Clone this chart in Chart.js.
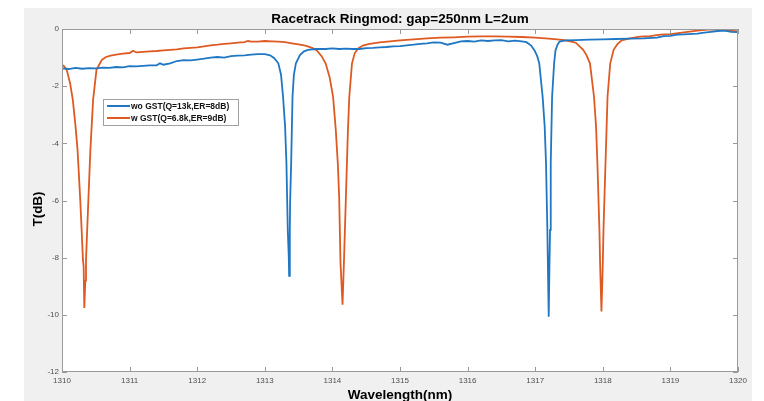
<!DOCTYPE html>
<html>
<head>
<meta charset="utf-8">
<title>Racetrack Ringmod</title>
<script src="https://cdn.jsdelivr.net/npm/chart.js@4.4.1/dist/chart.umd.min.js"></script>
<style>
  html, body { margin: 0; padding: 0; background: #fff; }
  canvas { display: block; }
</style>
</head>
<body>
<canvas id="ringChart" width="764" height="401"></canvas>
<script>
// measured spectra, wavelength in nm / transmission in dB
const woWavelength = [
  1310.00, 1310.10, 1310.20, 1310.30, 1310.40, 1310.50, 1310.60, 1310.70, 1310.80, 1310.90,
  1311.00, 1311.10, 1311.20, 1311.30, 1311.40, 1311.45, 1311.50, 1311.60, 1311.70, 1311.80,
  1311.90, 1312.00, 1312.10, 1312.20, 1312.30, 1312.40, 1312.50, 1312.60, 1312.70, 1312.80,
  1312.90, 1313.00, 1313.08, 1313.14, 1313.20, 1313.24, 1313.27, 1313.30, 1313.32, 1313.34,
  1313.355, 1313.36, 1313.37, 1313.375, 1313.39, 1313.41, 1313.43, 1313.46, 1313.52, 1313.58,
  1313.64, 1313.75, 1313.90, 1314.00, 1314.10, 1314.20, 1314.30, 1314.40, 1314.50, 1314.60,
  1314.70, 1314.80, 1314.90, 1315.00, 1315.10, 1315.20, 1315.30, 1315.40, 1315.50, 1315.60,
  1315.70, 1315.80, 1315.90, 1316.00, 1316.10, 1316.20, 1316.30, 1316.40, 1316.50, 1316.60,
  1316.70, 1316.80, 1316.87, 1316.94, 1316.99, 1317.03, 1317.06, 1317.11, 1317.14, 1317.16,
  1317.18, 1317.19, 1317.20, 1317.21, 1317.22, 1317.23, 1317.25, 1317.28, 1317.30, 1317.33,
  1317.36, 1317.45, 1317.60, 1317.80, 1318.00, 1318.20, 1318.40, 1318.60, 1318.80, 1318.90,
  1319.00, 1319.10, 1319.20, 1319.40, 1319.50, 1319.60, 1319.70, 1319.80, 1319.90, 1320.00
];
const woTransmission = [
  -1.38, -1.40, -1.36, -1.39, -1.37, -1.38, -1.35, -1.36, -1.33, -1.34,
  -1.30, -1.31, -1.29, -1.27, -1.27, -1.20, -1.25, -1.20, -1.12, -1.09,
  -1.10, -1.07, -1.04, -1.00, -0.98, -1.00, -0.95, -0.93, -0.92, -0.90,
  -0.88, -0.88, -0.92, -1.02, -1.20, -1.60, -2.37, -3.40, -4.69, -7.03,
  -8.00, -8.64, -7.03, -6.00, -4.69, -2.37, -1.60, -1.20, -0.91, -0.78,
  -0.73, -0.70, -0.70, -0.68, -0.70, -0.69, -0.70, -0.70, -0.67, -0.66,
  -0.64, -0.63, -0.61, -0.60, -0.57, -0.55, -0.52, -0.50, -0.47, -0.48,
  -0.55, -0.49, -0.43, -0.42, -0.44, -0.40, -0.42, -0.40, -0.39, -0.43,
  -0.41, -0.43, -0.46, -0.58, -0.75, -0.95, -1.20, -2.37, -3.40, -4.69,
  -7.03, -8.60, -10.07, -8.40, -7.03, -4.69, -2.37, -1.20, -0.75, -0.55,
  -0.44, -0.40, -0.39, -0.37, -0.36, -0.35, -0.34, -0.33, -0.30, -0.25,
  -0.24, -0.20, -0.19, -0.16, -0.13, -0.10, -0.07, -0.06, -0.10, -0.11
];

const wWavelength = [
  1310.00, 1310.03, 1310.07, 1310.12, 1310.16, 1310.20, 1310.23, 1310.27, 1310.29, 1310.31,
  1310.32, 1310.33, 1310.345, 1310.355, 1310.39, 1310.42, 1310.46, 1310.51, 1310.55, 1310.59,
  1310.65, 1310.72, 1310.80, 1310.90, 1311.00, 1311.05, 1311.10, 1311.20, 1311.30, 1311.40,
  1311.50, 1311.60, 1311.70, 1311.80, 1311.90, 1312.00, 1312.10, 1312.20, 1312.30, 1312.40,
  1312.50, 1312.60, 1312.70, 1312.75, 1312.80, 1312.90, 1313.00, 1313.10, 1313.20, 1313.30,
  1313.40, 1313.50, 1313.60, 1313.70, 1313.77, 1313.84, 1313.90, 1313.96, 1314.01, 1314.05,
  1314.08, 1314.10, 1314.12, 1314.15, 1314.17, 1314.20, 1314.23, 1314.25, 1314.29, 1314.33,
  1314.38, 1314.45, 1314.55, 1314.70, 1314.85, 1315.00, 1315.20, 1315.40, 1315.60, 1315.80,
  1316.00, 1316.20, 1316.40, 1316.60, 1316.80, 1317.00, 1317.20, 1317.40, 1317.50, 1317.60,
  1317.71, 1317.76, 1317.81, 1317.87, 1317.90, 1317.92, 1317.95, 1317.96, 1317.98, 1318.00,
  1318.01, 1318.04, 1318.07, 1318.11, 1318.16, 1318.22, 1318.28, 1318.40, 1318.55, 1318.70,
  1318.85, 1319.00, 1319.20, 1319.40, 1319.55, 1319.70, 1319.85, 1320.00
];
const wTransmission = [
  -1.25, -1.30, -1.43, -1.90, -2.48, -3.40, -4.23, -5.98, -7.00, -8.08,
  -8.30, -9.76, -8.80, -8.08, -5.98, -4.23, -2.48, -1.43, -1.25, -1.08,
  -0.98, -0.93, -0.90, -0.86, -0.84, -0.76, -0.82, -0.80, -0.78, -0.77,
  -0.75, -0.73, -0.71, -0.68, -0.66, -0.64, -0.61, -0.57, -0.55, -0.52,
  -0.50, -0.48, -0.46, -0.42, -0.44, -0.44, -0.42, -0.43, -0.44, -0.46,
  -0.50, -0.54, -0.58, -0.66, -0.75, -0.95, -1.20, -1.70, -2.37, -3.53,
  -4.70, -5.86, -8.20, -9.65, -8.20, -5.86, -3.53, -2.37, -1.20, -0.85,
  -0.68, -0.58, -0.52, -0.47, -0.43, -0.40, -0.36, -0.33, -0.30, -0.29,
  -0.27, -0.26, -0.26, -0.27, -0.28, -0.30, -0.34, -0.38, -0.42, -0.48,
  -0.73, -0.92, -1.20, -2.37, -3.40, -4.69, -7.03, -8.20, -9.88, -8.20,
  -7.03, -4.69, -2.37, -1.20, -0.73, -0.52, -0.40, -0.33, -0.27, -0.25,
  -0.20, -0.18, -0.12, -0.06, -0.02, -0.01, -0.05, -0.08
];

const seriesLabels = ['wo GST(Q=13k,ER=8dB)', 'w GST(Q=6.8k,ER=9dB)'];
const seriesColors = ['#1f77c4', '#de5a22'];
const xTicks = [1310, 1311, 1312, 1313, 1314, 1315, 1316, 1317, 1318, 1319, 1320];
const yTicks = [0, -2, -4, -6, -8, -10, -12];

const FONT = '"Liberation Sans", Arial, sans-serif';

function toPoints(xs, ys) {
  return xs.map((x, i) => ({ x: x, y: ys[i] }));
}

// grey figure background, boxed axes with inward ticks, titles and legend
const matlabAxes = {
  id: 'matlabAxes',
  beforeDraw(chart) {
    const ctx = chart.ctx, a = chart.chartArea;
    ctx.save();
    ctx.fillStyle = '#ffffff';
    ctx.fillRect(0, 0, chart.width, chart.height);
    ctx.fillStyle = '#f0f0f0';
    ctx.fillRect(24, 8, 728, 393);
    ctx.fillStyle = '#ffffff';
    ctx.fillRect(a.left, a.top, a.right - a.left, a.bottom - a.top);
    ctx.restore();
  },
  afterDatasetsDraw(chart) {
    const ctx = chart.ctx, a = chart.chartArea;
    const sx = chart.scales.x, sy = chart.scales.y;
    ctx.save();
    ctx.strokeStyle = '#9a9a9a';
    ctx.lineWidth = 1;
    ctx.beginPath();
    xTicks.forEach(v => {
      const px = Math.round(sx.getPixelForValue(v)) + 0.5;
      ctx.moveTo(px, a.bottom); ctx.lineTo(px, a.bottom - 5);
      ctx.moveTo(px, a.top); ctx.lineTo(px, a.top + 5);
    });
    yTicks.forEach(v => {
      const py = Math.round(sy.getPixelForValue(v)) + 0.5;
      ctx.moveTo(a.left, py); ctx.lineTo(a.left + 5, py);
      ctx.moveTo(a.right, py); ctx.lineTo(a.right - 5, py);
    });
    ctx.stroke();
    ctx.strokeRect(a.left + 0.5, a.top + 0.5, a.right - a.left - 1, a.bottom - a.top - 1);

    // tick labels
    ctx.fillStyle = '#505050';
    ctx.font = '8px ' + FONT;
    ctx.textAlign = 'center';
    ctx.textBaseline = 'top';
    xTicks.forEach(v => ctx.fillText(String(v), sx.getPixelForValue(v), a.bottom + 5));
    ctx.textAlign = 'right';
    ctx.textBaseline = 'middle';
    yTicks.forEach(v => ctx.fillText(String(v), a.left - 3, sy.getPixelForValue(v)));
    ctx.restore();
  },
  afterDraw(chart) {
    const ctx = chart.ctx, a = chart.chartArea;
    const cx = (a.left + a.right) / 2;
    ctx.save();
    ctx.fillStyle = '#000';
    ctx.font = 'bold 13.5px ' + FONT;
    ctx.textAlign = 'center';
    ctx.textBaseline = 'alphabetic';
    ctx.fillText('Racetrack Ringmod: gap=250nm L=2um', cx, 23);
    ctx.fillText('Wavelength(nm)', cx, 399);
    ctx.save();
    ctx.translate(42, 209);
    ctx.rotate(-Math.PI / 2);
    ctx.fillText('T(dB)', 0, 0);
    ctx.restore();

    // legend box
    ctx.fillStyle = '#ffffff';
    ctx.fillRect(103, 99, 135, 26);
    ctx.strokeStyle = '#a0a0a0';
    ctx.lineWidth = 1;
    ctx.strokeRect(103.5, 99.5, 135, 26);
    ctx.font = 'bold 8.5px ' + FONT;
    ctx.textAlign = 'left';
    ctx.textBaseline = 'middle';
    seriesLabels.forEach((label, i) => {
      const y = 106 + i * 12;
      ctx.strokeStyle = seriesColors[i];
      ctx.lineWidth = 2;
      ctx.beginPath();
      ctx.moveTo(107, y); ctx.lineTo(130, y);
      ctx.stroke();
      ctx.fillStyle = '#111';
      ctx.fillText(label, 131, y + 0.5);
    });
    ctx.restore();
  }
};

new Chart(document.getElementById('ringChart').getContext('2d'), {
  type: 'line',
  data: {
    datasets: [
      {
        label: seriesLabels[0],
        data: toPoints(woWavelength, woTransmission),
        borderColor: seriesColors[0],
        borderWidth: 1.8,
        pointRadius: 0,
        tension: 0
      },
      {
        label: seriesLabels[1],
        data: toPoints(wWavelength, wTransmission),
        borderColor: seriesColors[1],
        borderWidth: 1.8,
        pointRadius: 0,
        tension: 0
      }
    ]
  },
  options: {
    responsive: false,
    animation: false,
    events: [],
    layout: { padding: { left: 62, right: 26, top: 29, bottom: 29 } },
    plugins: {
      legend: { display: false },
      title: { display: false },
      tooltip: { enabled: false }
    },
    scales: {
      x: {
        type: 'linear',
        min: 1310,
        max: 1320,
        grid: { display: false, drawTicks: false },
        border: { display: false },
        ticks: { display: false },
        afterFit: s => { s.height = 0; }
      },
      y: {
        type: 'linear',
        min: -12,
        max: 0,
        grid: { display: false, drawTicks: false },
        border: { display: false },
        ticks: { display: false },
        afterFit: s => { s.width = 0; }
      }
    }
  },
  plugins: [matlabAxes]
});
</script>
</body>
</html>
